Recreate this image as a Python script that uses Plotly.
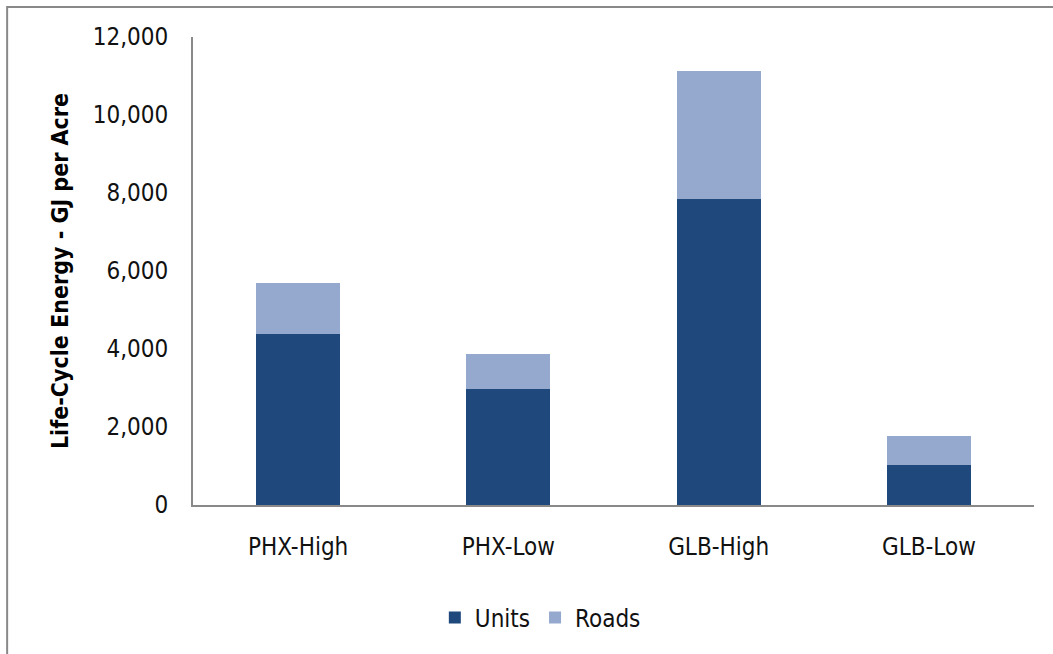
import plotly.graph_objects as go

# Life-cycle energy per acre, split into building units and road infrastructure
categories = ["PHX-High", "PHX-Low", "GLB-High", "GLB-Low"]
units = [4380, 2970, 7850, 1020]
roads = [1310, 910, 3280, 760]
ytick_vals = [0, 2000, 4000, 6000, 8000, 10000, 12000]
ytick_text = ["0", "2,000", "4,000", "6,000", "8,000", "10,000", "12,000"]

FONT = "Liberation Sans Narrow, Arial Narrow, DejaVu Sans Condensed, sans-serif"
UNITS_COLOR = "#1F497D"
ROADS_COLOR = "#95A9CF"
AXIS_COLOR = "#898989"

fig = go.Figure()
fig.add_trace(go.Bar(x=categories, y=units, name="Units",
                     marker=dict(color=UNITS_COLOR, line=dict(width=0))))
fig.add_trace(go.Bar(x=categories, y=roads, name="Roads",
                     marker=dict(color=ROADS_COLOR, line=dict(width=0))))

fig.update_layout(
    barmode="stack",
    bargap=0.6,
    width=1053,
    height=654,
    margin=dict(l=193, r=19, t=37, b=149),
    paper_bgcolor="white",
    plot_bgcolor="white",
    font=dict(family=FONT, size=24, color="#111111"),
    xaxis=dict(
        showline=True, linecolor=AXIS_COLOR, linewidth=2,
        showgrid=False, ticks="", ticklabelstandoff=19,
        tickfont=dict(size=24),
    ),
    yaxis=dict(
        range=[0, 12000],
        tickvals=ytick_vals, ticktext=ytick_text,
        showline=True, linecolor=AXIS_COLOR, linewidth=2,
        showgrid=False, zeroline=False, ticks="", ticklabelstandoff=18,
        tickfont=dict(size=24),
        title=dict(text="<b>Life-Cycle Energy - GJ per Acre</b>",
                   font=dict(size=23, color="#000000"), standoff=18),
    ),
    legend=dict(
        orientation="h", x=0.413, xanchor="center", y=-0.241, yanchor="middle",
        font=dict(size=24), itemwidth=30, traceorder="normal",
    ),
    shapes=[dict(type="rect", xref="paper", yref="paper",
                 x0=-0.221, x1=1.1, y0=-0.5, y1=1.064,
                 line=dict(color=AXIS_COLOR, width=2), layer="below")],
)

fig.write_html("out.html")
